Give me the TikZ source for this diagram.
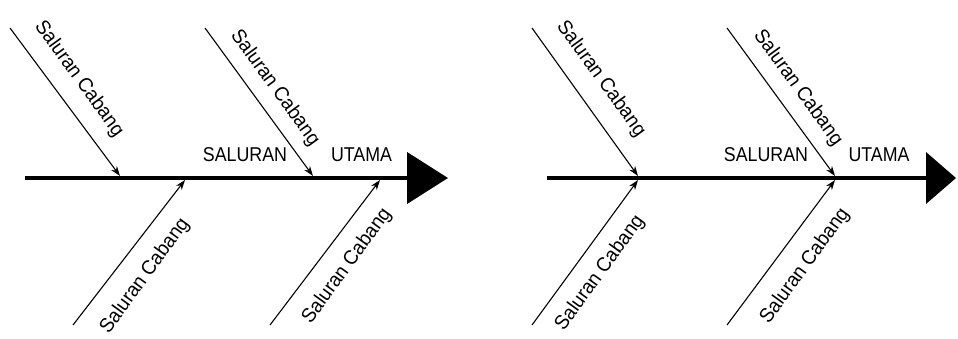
\documentclass[tikz,border=0pt]{standalone}
\usepackage{fontspec}
\setmainfont{Liberation Sans}
\newfontfamily\brfont[FakeStretch=0.95]{Liberation Sans}
\newfontfamily\tlfont[FakeStretch=0.89]{Liberation Sans}
\usetikzlibrary{arrows.meta}
\begin{document}
\begin{tikzpicture}[x=1pt,y=-1pt,
  branch/.style={line width=1.1pt,-{Stealth[length=10pt,width=7pt]}},
  spine/.style={line width=4.2pt},
  lbl/.style={font=\brfont\fontsize{20}{23}\selectfont,inner sep=0pt},
  ttl/.style={font=\tlfont\fontsize{20}{23}\selectfont,inner sep=0pt}]
\useasboundingbox (0,0) rectangle (958,338);
% ---------- left diagram ----------
\coordinate (LA0) at (25,178);
\coordinate (LA1) at (448,178);
\draw[spine,-{Triangle[length=41pt,width=51pt]}] (LA0) -- (LA1);
\coordinate (LU1s) at (10,28);   \coordinate (LU1e) at (120,176);
\coordinate (LU2s) at (205,28);  \coordinate (LU2e) at (313,176);
\coordinate (LL1s) at (73,325);  \coordinate (LL1e) at (185,180);
\coordinate (LL2s) at (270,325); \coordinate (LL2e) at (380,180);
\draw[branch] (LU1s) -- (LU1e);
\draw[branch] (LU2s) -- (LU2e);
\draw[branch] (LL1s) -- (LL1e);
\draw[branch] (LL2s) -- (LL2e);
\node[lbl,rotate=-54] (tLU1) at (79,79) {Saluran Cabang};
\node[lbl,rotate=-54] (tLU2) at (275,88) {Saluran Cabang};
\node[lbl,rotate=54] (tLL1) at (145,276) {Saluran Cabang};
\node[lbl,rotate=54] (tLL2) at (347,266) {Saluran Cabang};
\node[ttl] (tLS) at (245,154.5) {SALURAN};
\node[ttl] (tLT) at (361.5,154.5) {UTAMA};
% ---------- right diagram ----------
\coordinate (RA0) at (547,178);
\coordinate (RA1) at (956,178);
\draw[spine,-{Triangle[length=30pt,width=51pt]}] (RA0) -- (RA1);
\coordinate (RU1s) at (532,28);  \coordinate (RU1e) at (638,176);
\coordinate (RL1s) at (532,325); \coordinate (RL1e) at (638,180);
\coordinate (RU2s) at (727,28);  \coordinate (RU2e) at (835,176);
\coordinate (RL2s) at (727,325); \coordinate (RL2e) at (835,180);
\draw[branch] (RU1s) -- (RU1e);
\draw[branch] (RL1s) -- (RL1e);
\draw[branch] (RU2s) -- (RU2e);
\draw[branch] (RL2s) -- (RL2e);
\node[lbl,rotate=-54] (tRU1) at (601,79) {Saluran Cabang};
\node[lbl,rotate=54] (tRL1) at (600,273) {Saluran Cabang};
\node[lbl,rotate=54] (tRL2) at (805,266) {Saluran Cabang};
\node[lbl,rotate=-54] (tRU2) at (798,88) {Saluran Cabang};
\node[ttl] (tRS) at (766,154.5) {SALURAN};
\node[ttl] (tRT) at (879,154.5) {UTAMA};
\end{tikzpicture}
\end{document}
